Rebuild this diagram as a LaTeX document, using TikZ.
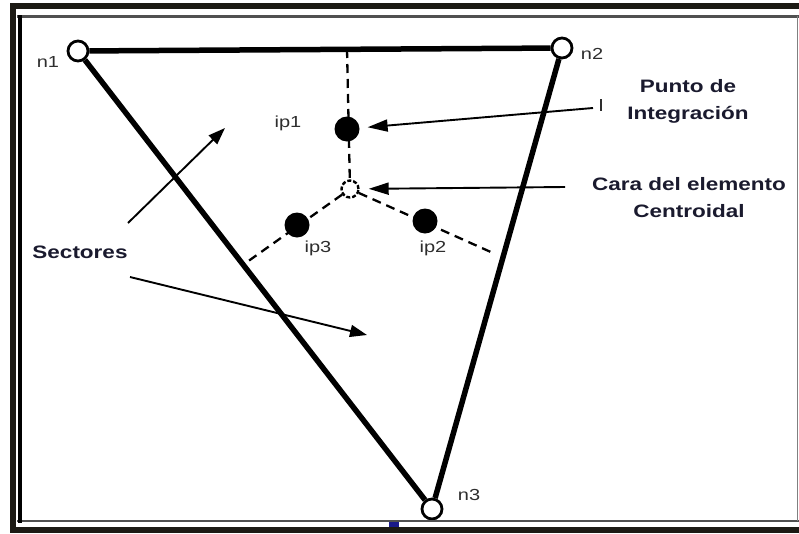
\documentclass[tikz,border=0pt]{standalone}
\usepackage{fontspec}
\setmainfont{Liberation Sans}
\newfontfamily\labfont[FakeStretch=1.25]{Liberation Sans}
\usetikzlibrary{arrows.meta,backgrounds}
\definecolor{band}{HTML}{1C1A14}
\definecolor{labgray}{HTML}{2E2E2E}
\definecolor{callout}{HTML}{1A1A2E}
\definecolor{framegray}{HTML}{505050}
\definecolor{bluemark}{HTML}{1A1A8A}
\begin{document}
\begin{tikzpicture}[x=1pt,y=-1pt,
  vertex/.style={circle,draw=black,fill=white,line width=2.8pt,minimum size=20pt,inner sep=0pt},
  ipdot/.style={circle,fill=black,minimum size=25pt,inner sep=0pt},
  cendot/.style={circle,draw=black,fill=white,line width=2.4pt,dash pattern=on 4pt off 2pt,minimum size=17pt,inner sep=0pt},
  edgeline/.style={line width=5.5pt},
  guide/.style={line width=2.3pt,dash pattern=on 9pt off 6pt},
  pointer/.style={line width=1.9pt,-{Triangle[length=20pt,width=12pt]}},
  spointer/.style={line width=1.9pt,-{Triangle[length=17pt,width=12pt]}},
  small/.style={font=\labfont\fontsize{16}{18}\selectfont,text=labgray,inner sep=0pt},
  callout/.style={font=\labfont\bfseries\fontsize{18}{27}\selectfont,text=callout,align=center,inner sep=0pt}]
\useasboundingbox (0,0) rectangle (799,533);
% nodes
\node[vertex] (n1) at (78,51) {};
\node[vertex] (n2) at (562,48) {};
\node[vertex] (n3) at (432,509) {};
\node[ipdot] (ip1) at (347,129) {};
\node[ipdot] (ip2) at (425,221) {};
\node[ipdot] (ip3) at (297,225) {};
\node[cendot] (cen) at (350,189) {};
\coordinate (top) at (347,49);
\coordinate (le) at (247,262);
\coordinate (re) at (493,253);
\begin{scope}[on background layer]
\fill[white] (0,0) rectangle (799,533);
\draw[edgeline] (n1) -- (n2);
\draw[edgeline] (n1) -- (n3);
\draw[edgeline] (n2) -- (n3);
\draw[guide] (top) -- (cen);
\draw[guide] (cen) -- (le);
\draw[guide] (cen) -- (re);
\end{scope}
% frame
\fill[band] (10,3) rectangle (799,8.5);
\fill[band] (10,3) rectangle (16,533);
\fill[band] (10,527) rectangle (799,533);
\draw[framegray,line width=3pt] (17,16.5) -- (799,16.5);
\draw[framegray,line width=2.5pt] (17,521) -- (799,521);
\draw[gray,line width=1.5pt] (797.5,16) -- (797.5,521);
\fill[black] (17.5,15) rectangle (22,522.5);
\fill[bluemark] (389,522) rectangle (399,527);
% labels
\node[small] (ln1) at (48,62) {n1};
\node[small] (ln2) at (592,54) {n2};
\node[small] (ln3) at (469,495) {n3};
\node[small] (lip1) at (288,123) {ip1};
\node[small] (lip2) at (433,248) {ip2};
\node[small] (lip3) at (318,248) {ip3};
\node[callout] (pi) at (688,101) {Punto de\\Integración};
\node[callout] (ce) at (689,198) {Cara del elemento\\Centroidal};
\node[callout] (sec) at (80,252) {Sectores};
% pointers
\coordinate (pis) at (593,108);
\coordinate (ces) at (565,187);
\draw[pointer,shorten >=8pt] (pis) -- (ip1);
\draw[pointer,shorten >=9pt] (ces) -- (cen);
\draw[labgray,line width=1.2pt] (601,99) -- (601,111);
\coordinate (s1a) at (128,223);
\coordinate (s1b) at (225,128);
\coordinate (s2a) at (130,277);
\coordinate (s2b) at (367,335);
\draw[spointer] (s1a) -- (s1b);
\draw[spointer] (s2a) -- (s2b);
\end{tikzpicture}
\end{document}
